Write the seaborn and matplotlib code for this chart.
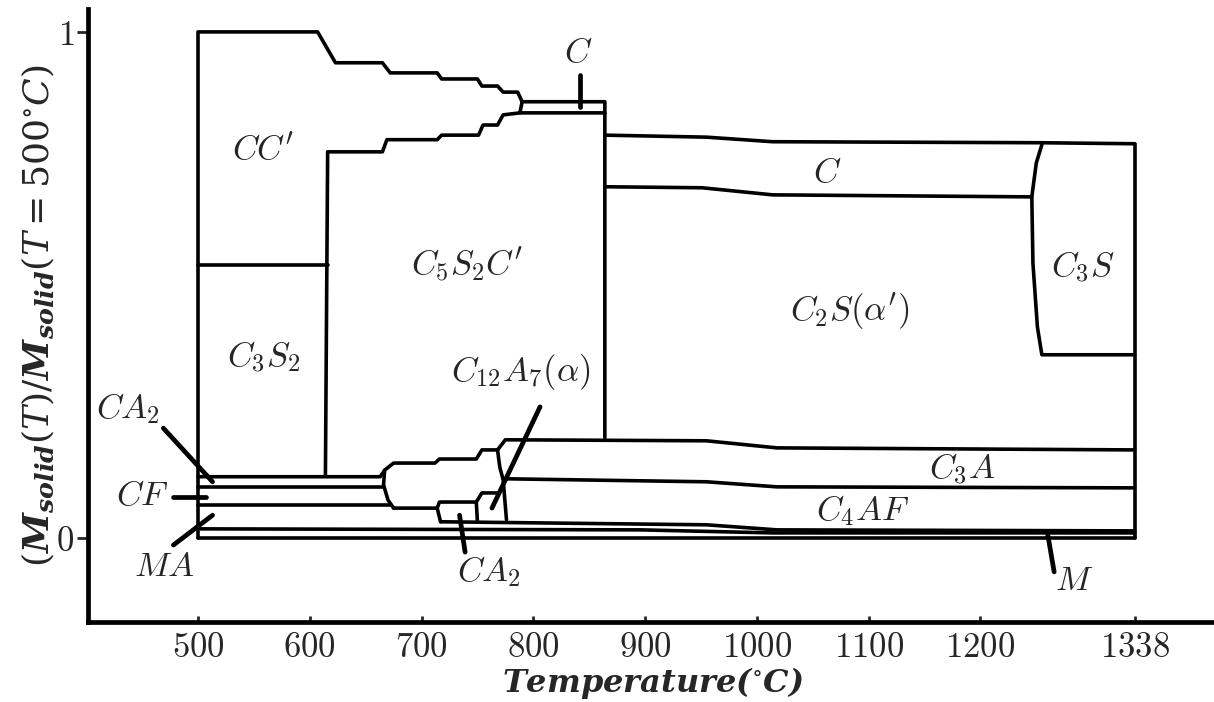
import matplotlib
matplotlib.use("Agg")
import matplotlib.pyplot as plt
import seaborn as sns

# boundary lines: temperature (x) and solid fraction (y)
outer_T = [500, 500, 607, 623, 665, 672, 714, 718, 750, 754, 768, 773, 786, 790, 864, 864]
outer_y = [0.0, 1.0, 1.0, 0.939, 0.939, 0.919, 0.919, 0.907, 0.907, 0.893, 0.893, 0.881, 0.881, 0.862, 0.862, 0.198]

c5s2_T = [614, 616, 665, 669, 714, 718, 751, 755, 768, 773, 788, 864]
c5s2_y = [0.125, 0.763, 0.763, 0.787, 0.787, 0.796, 0.796, 0.816, 0.816, 0.836, 0.840, 0.840]
join_T = [788, 790]
join_y = [0.840, 0.862]

cc_div_T = [500, 616]
cc_div_y = [0.540, 0.540]

c_top_T = [864, 955, 1014, 1253, 1338]
c_top_y = [0.796, 0.792, 0.783, 0.781, 0.779]
c_bot_T = [864, 951, 1014, 1246]
c_bot_y = [0.694, 0.692, 0.678, 0.674]
c3s_T = [1255, 1250, 1246, 1247, 1251, 1255, 1338]
c3s_y = [0.777, 0.741, 0.674, 0.543, 0.417, 0.362, 0.362]
right_T = [1338, 1338]
right_y = [0.779, 0.0]

c3a_top_T = [500, 663, 667, 675, 712, 716, 749, 754, 768, 775, 955, 1018, 1338]
c3a_top_y = [0.121, 0.121, 0.134, 0.148, 0.148, 0.156, 0.156, 0.174, 0.174, 0.194, 0.192, 0.178, 0.174]
ca2_bot_T = [500, 666]
ca2_bot_y = [0.101, 0.101]
cf_bot_T = [500, 673]
cf_bot_y = [0.065, 0.065]
bulge_left_T = [667, 666, 670, 675]
bulge_left_y = [0.134, 0.105, 0.075, 0.059]
bulge_bot_T = [675, 714, 716, 749, 754, 768]
bulge_bot_y = [0.059, 0.059, 0.071, 0.071, 0.089, 0.089]
bulge_right_T = [768, 770, 773, 776]
bulge_right_y = [0.174, 0.140, 0.115, 0.036]
ca2_left_T = [714, 717]
ca2_left_y = [0.059, 0.032]
ca2_right_T = [749, 750]
ca2_right_y = [0.071, 0.032]
c3a_bot_T = [773, 955, 1018, 1338]
c3a_bot_y = [0.117, 0.111, 0.101, 0.099]
c4af_bot_T = [717, 955, 1018, 1338]
c4af_bot_y = [0.032, 0.026, 0.016, 0.014]
ma_bot_T = [500, 896, 1014, 1338]
ma_bot_y = [0.018, 0.016, 0.010, 0.010]
base_T = [500, 1338]
base_y = [0.0, 0.0]

boundaries = [
    (outer_T, outer_y), (c5s2_T, c5s2_y), (join_T, join_y), (cc_div_T, cc_div_y),
    (c_top_T, c_top_y), (c_bot_T, c_bot_y), (c3s_T, c3s_y), (right_T, right_y),
    (c3a_top_T, c3a_top_y), (ca2_bot_T, ca2_bot_y), (cf_bot_T, cf_bot_y),
    (bulge_left_T, bulge_left_y), (bulge_bot_T, bulge_bot_y), (bulge_right_T, bulge_right_y),
    (ca2_left_T, ca2_left_y), (ca2_right_T, ca2_right_y), (c3a_bot_T, c3a_bot_y),
    (c4af_bot_T, c4af_bot_y), (ma_bot_T, ma_bot_y), (base_T, base_y),
]

# phase names placed inside their regions
region_names = [r"$CC'$", r"$C_3S_2$", r"$C_5S_2C'$", r"$C$", r"$C_3S$",
                r"$C_2S(\alpha')$", r"$C_3A$", r"$C_4AF$"]
region_T = [558, 559, 741, 1063, 1292, 1083, 1184, 1095]
region_y = [0.769, 0.358, 0.540, 0.723, 0.535, 0.447, 0.136, 0.055]

# labels with pointer lines: text position, pointer start and end
note_names = [r"$C$", r"$CA_2$", r"$CF$", r"$MA$", r"$CA_2$", r"$C_{12}A_7(\alpha)$", r"$M$"]
note_T = [840, 437, 450, 470, 760, 789, 1284]
note_y = [0.960, 0.256, 0.084, -0.055, -0.067, 0.328, -0.083]
ptr_T0 = [842, 469, 478, 478, 734, 806, 1260]
ptr_y0 = [0.915, 0.217, 0.081, -0.014, 0.045, 0.259, 0.010]
ptr_T1 = [842, 513, 507, 513, 739, 763, 1266]
ptr_y1 = [0.852, 0.111, 0.081, 0.045, -0.028, 0.059, -0.067]

x_ticks = [500, 600, 700, 800, 900, 1000, 1100, 1200, 1338]
y_ticks = [0, 1]

sns.set_style("ticks")
plt.rcParams["mathtext.fontset"] = "cm"

fig = plt.figure(figsize=(12.14, 7.02), dpi=100)
ax = fig.add_axes([0.0725, 0.114, 0.9275, 0.873])

for T, y in boundaries:
    sns.lineplot(x=T, y=y, sort=False, estimator=None, color="black",
                 linewidth=2.6, ax=ax, legend=False)

for i in range(len(note_names)):
    sns.lineplot(x=[ptr_T0[i], ptr_T1[i]], y=[ptr_y0[i], ptr_y1[i]], sort=False,
                 estimator=None, color="black", linewidth=3.4, ax=ax, legend=False)
    ax.text(note_T[i], note_y[i], note_names[i], fontsize=25, ha="center", va="center")

for name, T, y in zip(region_names, region_T, region_y):
    ax.text(T, y, name, fontsize=25, ha="center", va="center")

ax.set_xlim(401.6, 1409)
ax.set_ylim(-0.166, 1.045)
ax.set_xticks(x_ticks, labels=[f"${t}$" for t in x_ticks])
ax.set_yticks(y_ticks, labels=[f"${t}$" for t in y_ticks])
ax.tick_params(axis="x", direction="in", length=4, width=2, labelsize=25, pad=6)
ax.tick_params(axis="y", direction="out", length=8, width=2, labelsize=25, pad=2)

for side in ["top", "right"]:
    ax.spines[side].set_visible(False)
for side in ["left", "bottom"]:
    ax.spines[side].set_linewidth(3.4)
    ax.spines[side].set_color("black")

ax.set_xlabel(r"$\mathbfit{Temperature(}^{\circ}\mathbfit{C)}$", fontsize=23,
              math_fontfamily="dejavuserif")
ax.xaxis.set_label_coords(0.502, -0.071)
ax.set_ylabel(r"$(\mathbfit{M}_{\mathbfit{solid}}(T)/\mathbfit{M}_{\mathbfit{solid}}(T=500^{\circ}C)$",
              fontsize=26, math_fontfamily="dejavuserif")
ax.yaxis.set_label_coords(-0.028, 0.5)

fig.savefig("out.png", dpi=100)
